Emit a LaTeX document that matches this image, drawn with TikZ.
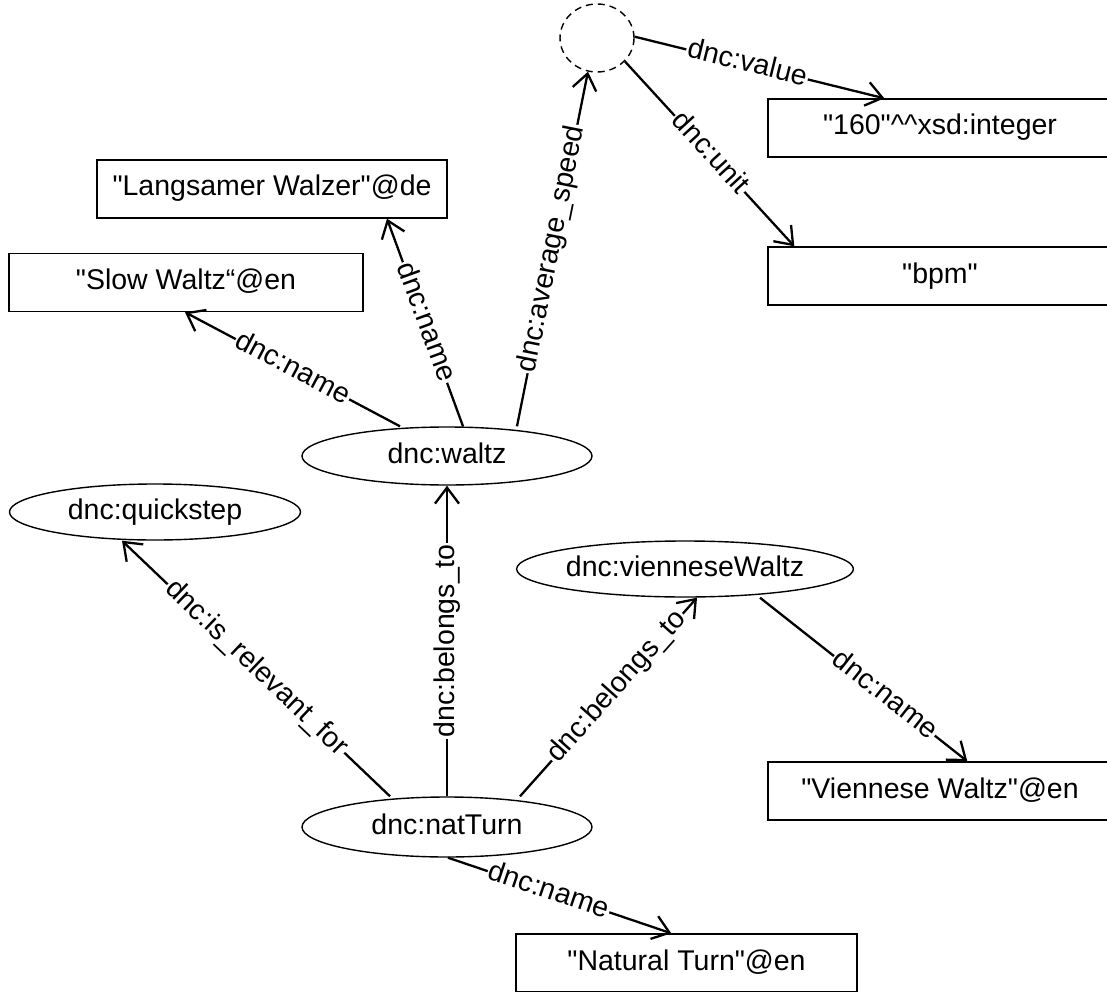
\documentclass[tikz,border=0pt]{standalone}
\usepackage{fontspec}
\setmainfont{Liberation Sans}
\newfontfamily\plainarial{Liberation Sans}
\usetikzlibrary{shapes.geometric,arrows.meta}
\begin{document}
\begin{tikzpicture}[x=1pt,y=-1pt,
  txt/.style={font=\plainarial\fontsize{28.5}{34}\selectfont, text height=20pt, text depth=6pt},
  lit/.style={txt, draw, line width=1.4pt, rectangle, minimum height=58pt, inner sep=0pt},
  res/.style={txt, draw, line width=1.4pt, ellipse, inner sep=0pt},
  blank/.style={draw, line width=1.4pt, ellipse, dash pattern=on 7pt off 5pt, minimum width=74pt, minimum height=68pt, inner sep=0pt},
  rel/.style={line width=2.3pt, -{Straight Barb[length=16pt,width=24pt,line width=2.3pt]}},
  lbl/.style={txt, sloped, fill=white, inner sep=1.5pt, pos=0.5}]
\clip (0,0) rectangle (1107,992);
% nodes
\node[blank] (bn) at (597,38) {};
\node[lit, minimum width=344pt] (val) at (940,128) {"160"\^{}\^{}xsd:integer};
\node[lit, minimum width=344pt] (bpm) at (940,276) {"bpm"};
\node[lit, minimum width=350pt] (langs) at (272,189) {"Langsamer Walzer"@de};
\node[lit, minimum width=354pt] (slow) at (186,282.5) {"Slow Waltz“@en};
\node[res, minimum width=290pt, minimum height=58pt] (waltz) at (447,456) {dnc:waltz};
\node[res, minimum width=291pt, minimum height=56pt] (quick) at (155,512) {dnc:quickstep};
\node[res, minimum width=210pt, minimum height=56pt] (vw) at (685,569) {dnc:vienneseWaltz};
\node[res, minimum width=290pt, minimum height=60pt] (nat) at (447,827) {dnc:natTurn};
\node[lit, minimum width=344pt] (vwname) at (940,791) {"Viennese Waltz"@en};
\node[lit, minimum width=341pt] (ntname) at (686.5,963) {"Natural Turn"@en};
% connectors
\draw[rel] ([xshift=-47pt]waltz.north) -- node[lbl] {dnc:name} ([xshift=-1pt]slow.south);
\draw[rel] ([xshift=16pt]waltz.north) -- node[lbl] {dnc:name} ([xshift=115pt]langs.south);
\draw[rel] ([xshift=70pt]waltz.north) -- node[lbl] {dnc:average\_speed} (bn.255);
\draw[rel] (bn.2) -- node[lbl, pos=0.45] {dnc:value} ([xshift=117pt]val.north west);
\draw[rel] (bn.-40) -- node[lbl] {dnc:unit} ([xshift=27pt]bpm.north west);
\draw[rel] (nat.north) -- node[txt, fill=white, inner sep=1.5pt, rotate=90] {dnc:belongs\_to} (waltz.south);
\draw[rel] ([xshift=-57pt]nat.north) -- node[lbl] {dnc:is\_relevant\_for} ([xshift=-33pt]quick.south);
\draw[rel] ([xshift=73pt]nat.north) -- node[lbl, pos=0.55] {dnc:belongs\_to} ([xshift=12pt]vw.south);
\draw[rel] ([xshift=75pt]vw.south) -- node[lbl, pos=0.6] {dnc:name} ([xshift=200pt]vwname.north west);
\draw[rel] ([xshift=1pt]nat.south) -- node[lbl, pos=0.45] {dnc:name} ([xshift=156pt]ntname.north west);
\end{tikzpicture}
\end{document}
